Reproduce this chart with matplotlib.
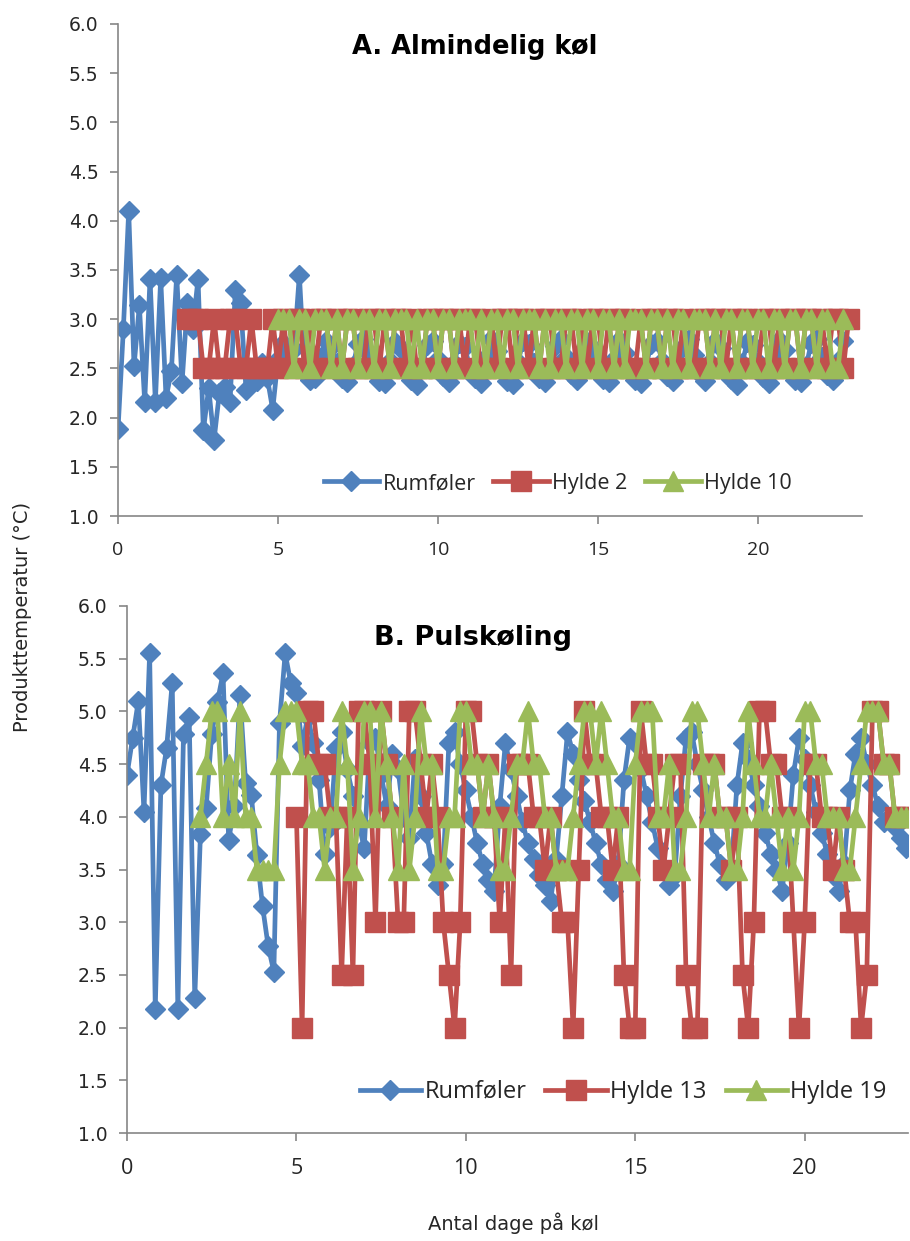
import numpy as np
import matplotlib
matplotlib.use("Agg")
from matplotlib import pyplot as plt

# measurements every 4 hours (1/6 day); each series has a start index on that grid
STEP = 1 / 6

# --- A. Almindelig køl ---
a_rum_start = 0
a_rum = [1.88, 2.90, 4.10, 2.52, 3.14, 2.16, 3.41, 2.16, 3.42, 2.20, 2.47, 3.45,
         2.35, 3.16, 2.90, 3.41, 1.87, 2.30, 1.77, 2.25, 2.31, 2.16, 3.30, 3.16,
         2.28, 2.45, 2.37, 2.55, 2.40, 2.08, 2.60, 2.76, 2.55, 2.70, 3.45, 2.45,
         2.38, 2.40, 2.62, 2.78, 2.72, 2.55, 2.40, 2.36, 2.52, 2.75, 2.80, 2.65,
         2.48, 2.37, 2.35, 2.58, 2.77, 2.70, 2.52, 2.38, 2.33, 2.50, 2.74, 2.78,
         2.60, 2.42, 2.36, 2.55, 2.76, 2.72, 2.50, 2.40, 2.35, 2.62, 2.80, 2.68,
         2.47, 2.37, 2.34, 2.57, 2.78, 2.75, 2.55, 2.40, 2.36, 2.48, 2.73, 2.80,
         2.62, 2.44, 2.38, 2.56, 2.77, 2.70, 2.52, 2.39, 2.36, 2.60, 2.79, 2.66,
         2.48, 2.38, 2.35, 2.53, 2.75, 2.78, 2.58, 2.42, 2.37, 2.50, 2.72, 2.80,
         2.64, 2.45, 2.37, 2.57, 2.78, 2.71, 2.51, 2.39, 2.33, 2.55, 2.77, 2.74,
         2.56, 2.41, 2.35, 2.60, 2.79, 2.69, 2.49, 2.38, 2.36, 2.52, 2.76, 2.80,
         2.62, 2.43, 2.38, 2.58, 2.78]

a_h2_start = 13
a_h2 = [3.0, 3.0, 3.0, 2.5, 2.5, 3.0, 2.5, 2.5, 3.0, 3.0, 2.5, 2.5, 3.0, 2.5, 2.5, 2.5, 3.0, 2.5,
        3.0, 2.5, 3.0, 3.0, 2.5, 3.0, 2.5, 3.0, 3.0, 2.5,
        3.0, 2.5, 3.0, 3.0, 2.5, 2.5, 3.0, 3.0, 2.5, 3.0,
        2.5, 3.0, 3.0, 2.5, 3.0, 2.5, 2.5, 3.0, 3.0, 2.5,
        3.0, 3.0, 2.5, 3.0, 2.5, 3.0, 3.0, 2.5, 2.5, 3.0,
        2.5, 3.0, 3.0, 2.5, 3.0, 3.0, 2.5, 3.0, 2.5, 3.0,
        3.0, 2.5, 2.5, 3.0, 3.0, 2.5, 3.0, 2.5, 3.0, 3.0,
        2.5, 3.0, 2.5, 3.0, 3.0, 2.5, 2.5, 3.0, 2.5, 3.0,
        3.0, 2.5, 3.0, 3.0, 2.5, 3.0, 2.5, 2.5, 3.0, 3.0,
        2.5, 3.0, 3.0, 2.5, 3.0, 2.5, 3.0, 3.0, 2.5, 2.5,
        3.0, 3.0, 2.5, 3.0, 2.5, 3.0, 3.0, 2.5, 3.0, 3.0,
        2.5, 3.0, 2.5, 3.0, 3.0, 2.5, 3.0]

a_h10_start = 30
a_h10 = [3.0, 3.0, 3.0, 2.5, 3.0, 3.0, 2.5, 3.0, 3.0, 3.0,
         2.5, 3.0, 2.5, 3.0, 3.0, 2.5, 3.0, 3.0, 2.5, 3.0,
         3.0, 2.5, 3.0, 3.0, 3.0, 2.5, 3.0, 2.5, 3.0, 3.0,
         2.5, 3.0, 3.0, 2.5, 3.0, 3.0, 3.0, 2.5, 3.0, 2.5,
         3.0, 3.0, 2.5, 3.0, 3.0, 2.5, 3.0, 3.0, 3.0, 2.5,
         3.0, 2.5, 3.0, 3.0, 2.5, 3.0, 3.0, 2.5, 3.0, 3.0,
         2.5, 3.0, 3.0, 2.5, 3.0, 2.5, 3.0, 3.0, 3.0, 2.5,
         3.0, 3.0, 2.5, 3.0, 2.5, 3.0, 3.0, 2.5, 3.0, 3.0,
         3.0, 2.5, 3.0, 2.5, 3.0, 3.0, 2.5, 3.0, 3.0, 2.5,
         3.0, 3.0, 2.5, 3.0, 3.0, 2.5, 3.0, 3.0, 2.5, 3.0,
         3.0, 2.5, 3.0, 3.0, 2.5, 2.5, 3.0]

# --- B. Pulskøling ---
b_rum_start = 0
b_rum = [4.40, 4.75, 5.10, 4.05, 5.55, 2.18, 4.30, 4.65, 5.27, 2.18, 4.79, 4.95,
         2.28, 3.84, 4.08, 4.79, 5.09, 5.36, 3.78, 4.10, 5.16, 4.32, 4.21, 3.64,
         3.15, 2.77, 2.53, 4.89, 5.55, 5.27, 5.17, 4.67,
         4.95, 4.70, 4.35, 3.65, 3.90, 4.65, 4.80, 4.45, 4.20, 3.95, 3.70, 4.70,
         4.75, 4.40, 4.10, 4.60, 4.45, 4.00, 3.80, 4.55, 4.20, 3.85, 3.55, 3.35,
         3.55, 4.70, 4.80, 4.50, 4.25, 4.00, 3.75, 3.55, 3.40, 3.30, 4.10, 4.70,
         4.45, 4.20, 3.95, 3.75, 3.60, 3.45, 3.35, 3.20, 3.60, 4.20, 4.80, 4.60,
         4.35, 4.15, 3.95, 3.75, 3.55, 3.40, 3.30, 3.55, 4.35, 4.75, 4.70, 4.45,
         4.20, 3.95, 3.70, 3.50, 3.35, 3.45, 4.20, 4.75, 4.80, 4.50, 4.25, 4.00,
         3.75, 3.55, 3.40, 3.50, 4.30, 4.70, 4.55, 4.30, 4.10, 3.85, 3.65, 3.50,
         3.30, 3.75, 4.40, 4.75, 4.55, 4.30, 4.05, 3.85, 3.65, 3.45, 3.30, 3.55,
         4.25, 4.60, 4.75, 4.50, 4.30, 4.10, 3.95, 4.00, 3.90, 3.80, 3.70]

b_h13_start = 30
b_h13 = [4.0, 2.0, 5.0, 5.0, 4.5, 4.5, 4.0, 4.0, 2.5, 4.0,
         2.5, 5.0, 5.0, 4.5, 3.0, 5.0, 4.5, 4.0, 3.0, 3.0,
         5.0, 5.0, 4.5, 4.0, 4.5, 4.0, 3.0, 2.5, 2.0, 3.0,
         5.0, 5.0, 4.5, 4.0, 4.5, 4.0, 3.0, 4.0, 2.5, 4.5,
         4.5, 4.5, 4.0, 4.0, 3.5, 4.0, 3.5, 3.0, 3.0, 2.0,
         3.5, 5.0, 4.5, 4.5, 4.0, 4.0, 3.5, 4.0, 2.5, 2.0,
         2.0, 5.0, 4.5, 4.5, 4.0, 3.5, 4.0, 4.5, 4.5, 2.5,
         2.0, 2.0, 4.5, 4.5, 4.5, 4.0, 4.0, 3.5, 4.0, 2.5,
         2.0, 3.0, 5.0, 5.0, 4.5, 4.5, 4.0, 4.0, 3.0, 2.0,
         3.0, 4.5, 4.5, 4.0, 4.0, 3.5, 4.0, 3.5, 3.0, 3.0,
         2.0, 2.5, 5.0, 5.0, 4.5, 4.5, 4.0, 4.0, 4.0]

b_h19_start = 13
b_h19 = [4.0, 4.5, 5.0, 5.0, 4.0, 4.5, 4.0, 5.0, 4.0, 4.0,
         3.5, 3.5, 3.5, 3.5, 4.5, 5.0, 5.0, 5.0, 4.5, 4.5,
         4.0, 4.0, 3.5, 4.0, 4.0, 5.0, 4.5, 3.5, 4.0, 5.0,
         5.0, 4.0, 5.0, 4.5, 4.0, 3.5, 4.5, 3.5, 4.0, 5.0,
         4.5, 4.5, 3.5, 3.5, 4.0, 4.0, 5.0, 5.0, 4.5, 4.5,
         4.0, 4.5, 4.0, 3.5, 3.5, 4.0, 4.5, 4.5, 5.0, 4.5,
         4.5, 4.0, 4.0, 3.5, 3.5, 3.5, 4.0, 4.5, 5.0, 5.0,
         4.5, 5.0, 4.5, 4.0, 4.0, 3.5, 3.5, 4.5, 5.0, 5.0,
         5.0, 4.0, 4.0, 4.5, 3.5, 3.5, 4.0, 5.0, 5.0, 4.5,
         4.0, 4.5, 4.0, 4.0, 3.5, 3.5, 4.0, 5.0, 4.5, 4.0,
         4.0, 4.5, 4.0, 3.5, 4.0, 3.5, 4.0, 5.0, 5.0, 4.5,
         4.5, 4.0, 4.0, 4.0, 3.5, 3.5, 4.0, 4.5, 5.0, 5.0,
         5.0, 4.5, 4.5, 4.0, 4.0, 4.0, 4.0]

y_ticks = [1.0, 1.5, 2.0, 2.5, 3.0, 3.5, 4.0, 4.5, 5.0, 5.5, 6.0]
x_ticks = [0, 5, 10, 15, 20]

BLUE, RED, GREEN = "#4F81BD", "#C0504D", "#9BBB59"
AXIS = "#868686"
TXT = "#262626"


def days(start, vals):
    return (start + np.arange(len(vals))) * STEP


def panel(ax, title, series, xmax, title_pos, title_size, legend_anchor,
          legend_size, xtick_size):
    styles = [(BLUE, "D", 10.5), (RED, "s", 14.5), (GREEN, "^", 14.5)]
    for (label, start, vals), (c, m, ms) in zip(series, styles):
        ax.plot(days(start, vals), vals, color=c, lw=3.4, marker=m, ms=ms,
                mec=c, mfc=c, label=label)
    ax.set_xlim(0, xmax)
    ax.set_ylim(1.0, 6.0)
    ax.set_yticks(y_ticks)
    ax.set_yticklabels([f"{v:.1f}" for v in y_ticks], family="DejaVu Sans",
                       fontsize=13.5)
    ax.set_xticks(x_ticks)
    ax.set_xticklabels([str(v) for v in x_ticks], family="Open Sans",
                       fontsize=xtick_size)
    for s in ["top", "right"]:
        ax.spines[s].set_visible(False)
    for s in ["left", "bottom"]:
        ax.spines[s].set_color(AXIS)
        ax.spines[s].set_linewidth(1.2)
    ax.tick_params(color=AXIS, labelcolor=TXT, length=6, width=1.2,
                   direction="out", pad=8)
    ax.tick_params(axis="x", pad=12)
    ax.text(title_pos[0], title_pos[1], title, transform=ax.transAxes,
            ha="center", va="center", family="DejaVu Sans", fontweight="bold",
            fontsize=title_size, color="black")
    ax.legend(loc="center right", bbox_to_anchor=legend_anchor, ncol=3,
              frameon=False, prop={"family": "Open Sans", "size": legend_size},
              handlelength=2.6, handletextpad=0.15, columnspacing=0.8,
              borderaxespad=0.0, labelcolor=TXT)


fig = plt.figure(figsize=(9.1, 12.41), dpi=100)
ax1 = fig.add_axes([0.1297, 0.5842, 0.8176, 0.3965])
ax2 = fig.add_axes([0.1396, 0.0870, 0.8582, 0.4247])

panel(ax1, "A. Almindelig køl",
      [("Rumføler", a_rum_start, a_rum), ("Hylde 2", a_h2_start, a_h2),
       ("Hylde 10", a_h10_start, a_h10)], 23.25,
      (0.48, 0.953), 18.5, (0.917, 0.066), 15.5, 14)
panel(ax2, "B. Pulskøling",
      [("Rumføler", b_rum_start, b_rum), ("Hylde 13", b_h13_start, b_h13),
       ("Hylde 19", b_h19_start, b_h19)], 23.05,
      (0.443, 0.939), 19.5, (0.985, 0.078), 17, 15.5)

fig.text(0.025, 0.503, "Produkttemperatur (°C)", rotation=90, ha="center",
         va="center", family="DejaVu Sans", fontsize=14, color=TXT)
fig.text(0.564, 0.014, "Antal dage på køl", ha="center", va="center",
         family="DejaVu Sans", fontsize=14, color=TXT)

fig.savefig("out.png", dpi=100)
